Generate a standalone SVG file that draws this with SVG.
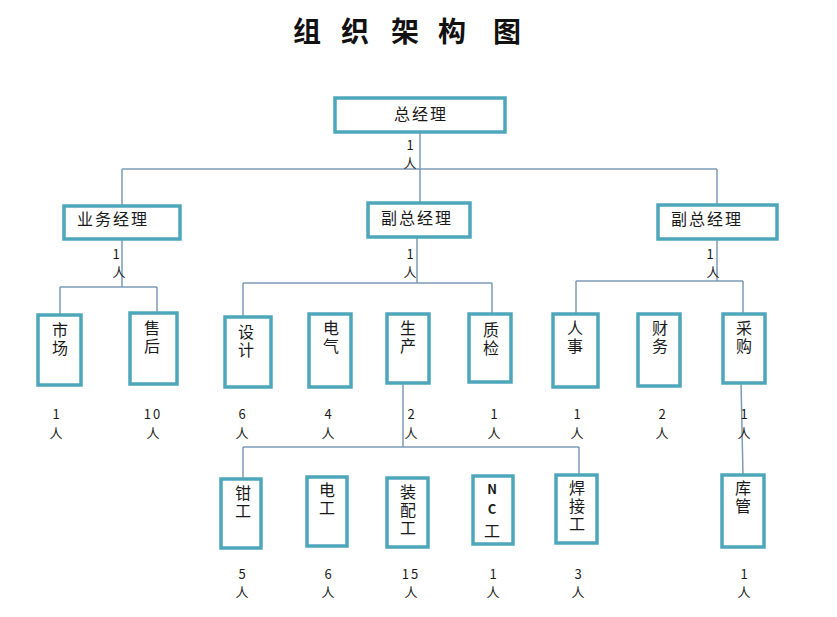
<svg xmlns="http://www.w3.org/2000/svg" width="837" height="617" viewBox="0 0 837 617">
<style>
.bg{fill:#ffffff}
.box{fill:#ffffff;stroke:#4ea6bb;stroke-width:3.5}
.ln{fill:none;stroke:#7e9bb5;stroke-width:1.5}
.t{font-family:"Noto Sans CJK SC","Noto Sans",sans-serif;font-size:16px;fill:#1a1a1a;dominant-baseline:central;text-anchor:middle}
.h{letter-spacing:2px}
.v{font-family:"Noto Sans CJK SC","Noto Sans",sans-serif;font-size:16px;fill:#1a1a1a;writing-mode:vertical-rl;text-orientation:upright;text-anchor:start;letter-spacing:2px}
.c{font-family:"Noto Sans CJK SC","Liberation Sans",sans-serif;font-size:13px;fill:#1a1a1a;dominant-baseline:central;text-anchor:middle}
.title{font-family:"Noto Sans CJK SC",sans-serif;font-size:28px;font-weight:bold;fill:#111;dominant-baseline:central;text-anchor:middle}
</style>
<rect class="bg" x="0" y="0" width="837" height="617"/>
<text class="title" x="307 355 405 452 507" y="30">组织架构图</text>

<g id="connectors">
<path class="ln" d="M420 132V169M122 169H717M122 169V206M420 169V203M717 169V205"/>
<path class="ln" d="M122 239V287M60 287H157M60 287V315M157 287V313"/>
<path class="ln" d="M417 237V283M243 283H492M243 283V317M492 283V314"/>
<path class="ln" d="M717 239V281M576 281H743M576 281V314M743 281V314"/>
<path class="ln" d="M403 383V447M243 447H579M243 447V479M579 447V475"/>
<path class="ln" d="M741 383L743 475"/>
</g>

<g id="n-zjl"><rect class="box" x="335" y="98" width="170" height="34"/><text class="t h" x="421" y="113">总经理</text></g>
<text class="c"><tspan x="410" y="144">1</tspan><tspan x="410" y="162">人</tspan></text>

<g id="n-ywjl"><rect class="box" x="64" y="206" width="116" height="33"/><text class="t h" x="113" y="218">业务经理</text></g>
<g id="n-fzjl1"><rect class="box" x="368" y="203" width="102" height="34"/><text class="t h" x="417" y="217">副总经理</text></g>
<g id="n-fzjl2"><rect class="box" x="658" y="205" width="119" height="34"/><text class="t h" x="707" y="218">副总经理</text></g>

<text class="c"><tspan x="116" y="253">1</tspan><tspan x="119" y="271">人</tspan></text>
<text class="c"><tspan x="410" y="253">1</tspan><tspan x="410" y="271">人</tspan></text>
<text class="c"><tspan x="710" y="253">1</tspan><tspan x="713" y="271">人</tspan></text>

<g id="n-sc"><rect class="box" x="38" y="315" width="43" height="70"/><text class="v" x="60" y="322">市场</text></g>
<g id="n-sh"><rect class="box" x="130" y="313" width="47" height="71"/><text class="v" x="152" y="320">售后</text></g>
<g id="n-sj"><rect class="box" x="225" y="317" width="46" height="70"/><text class="v" x="246" y="324">设计</text></g>
<g id="n-dq"><rect class="box" x="309" y="314" width="42" height="73"/><text class="v" x="331" y="320">电气</text></g>
<g id="n-scn"><rect class="box" x="387" y="314" width="42" height="69"/><text class="v" x="408" y="320">生产</text></g>
<g id="n-zj"><rect class="box" x="469" y="314" width="42" height="68"/><text class="v" x="491" y="322">质检</text></g>
<g id="n-rs"><rect class="box" x="553" y="314" width="45" height="73"/><text class="v" x="575" y="320">人事</text></g>
<g id="n-cw"><rect class="box" x="638" y="314" width="42" height="72"/><text class="v" x="660" y="320">财务</text></g>
<g id="n-cg"><rect class="box" x="723" y="314" width="42" height="69"/><text class="v" x="744" y="320">采购</text></g>

<text class="c"><tspan x="56" y="413">1</tspan><tspan x="56" y="432">人</tspan></text>
<text class="c"><tspan x="153" y="413" letter-spacing="2">10</tspan><tspan x="153" y="432">人</tspan></text>
<text class="c"><tspan x="242" y="413">6</tspan><tspan x="242" y="432">人</tspan></text>
<text class="c"><tspan x="328" y="413">4</tspan><tspan x="328" y="432">人</tspan></text>
<text class="c"><tspan x="411" y="413">2</tspan><tspan x="411" y="432">人</tspan></text>
<text class="c"><tspan x="494" y="413">1</tspan><tspan x="494" y="432">人</tspan></text>
<text class="c"><tspan x="577" y="413">1</tspan><tspan x="577" y="432">人</tspan></text>
<text class="c"><tspan x="662" y="413">2</tspan><tspan x="662" y="432">人</tspan></text>
<text class="c"><tspan x="744" y="413">1</tspan><tspan x="744" y="432">人</tspan></text>

<g id="n-qg"><rect class="box" x="221" y="479" width="40" height="69"/><text class="v" x="243" y="485">钳工</text></g>
<g id="n-dg"><rect class="box" x="307" y="477" width="40" height="69"/><text class="v" x="327" y="482">电工</text></g>
<g id="n-zpg"><rect class="box" x="387" y="478" width="41" height="69"/><text class="v" x="408" y="484">装配工</text></g>
<g id="n-ncg"><rect class="box" x="473" y="476" width="40" height="68"/><text class="v" x="492" y="483"><tspan font-weight="bold" font-size="13" letter-spacing="7">NC</tspan>工</text></g>
<g id="n-hjg"><rect class="box" x="556" y="475" width="41" height="68"/><text class="v" x="577" y="480">焊接工</text></g>
<g id="n-kg"><rect class="box" x="722" y="475" width="42" height="72"/><text class="v" x="743" y="480">库管</text></g>

<text class="c"><tspan x="242" y="573">5</tspan><tspan x="242" y="591">人</tspan></text>
<text class="c"><tspan x="328" y="573">6</tspan><tspan x="328" y="591">人</tspan></text>
<text class="c"><tspan x="411" y="573" letter-spacing="2">15</tspan><tspan x="411" y="591">人</tspan></text>
<text class="c"><tspan x="493" y="573">1</tspan><tspan x="493" y="591">人</tspan></text>
<text class="c"><tspan x="578" y="573">3</tspan><tspan x="578" y="591">人</tspan></text>
<text class="c"><tspan x="744" y="573">1</tspan><tspan x="744" y="591">人</tspan></text>
</svg>
